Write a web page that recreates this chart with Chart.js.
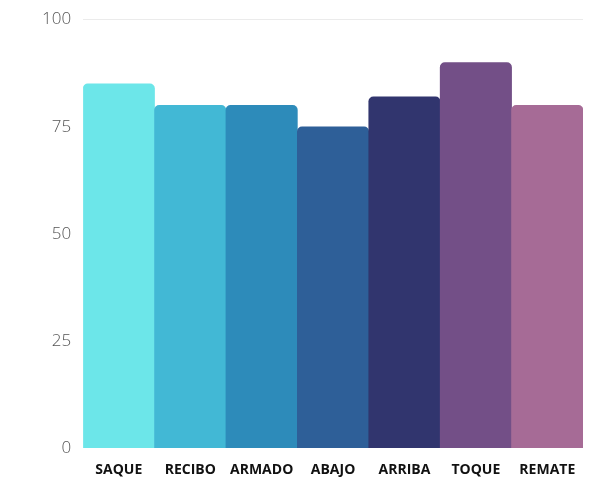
<!DOCTYPE html>
<html>
<head>
<meta charset="utf-8">
<script src="https://cdn.jsdelivr.net/npm/chart.js@4"></script>
<style>
  html, body { margin: 0; padding: 0; background: #fff; }
  #wrap { width: 593px; height: 494px; }
</style>
</head>
<body>
<div id="wrap"><canvas id="skillChart"></canvas></div>
<script>
// datos del gráfico
const categories = ['SAQUE', 'RECIBO', 'ARMADO', 'ABAJO', 'ARRIBA', 'TOQUE', 'REMATE'];
const values = [85, 80, 80, 75, 82, 90, 80];
const barColors = ['#6ce6e9', '#42b8d5', '#2d8bba', '#2e5f98', '#31356e', '#734f87', '#a66b96'];
const yTicks = [0, 25, 50, 75, 100];

const ctx = document.getElementById('skillChart');

new Chart(ctx, {
    type: 'bar',
    data: {
        labels: categories,
        datasets: [{
            data: values,
            backgroundColor: barColors,
            borderWidth: 0,
            borderRadius: { topLeft: 5, topRight: 5 },
            barPercentage: 1,
            categoryPercentage: 1
        }]
    },
    options: {
        responsive: true,
        maintainAspectRatio: false,
        animation: false,
        layout: { padding: { left: 30, right: 10, top: 0, bottom: 11 } },
        plugins: {
            legend: { display: false },
            tooltip: { enabled: false }
        },
        scales: {
            x: {
                grid: { display: false },
                border: { display: false },
                ticks: {
                    color: '#111',
                    font: { family: 'Open Sans', size: 14, weight: 'bold' },
                    padding: 5
                }
            },
            y: {
                min: 0,
                max: 100,
                afterBuildTicks: (axis) => { axis.ticks = yTicks.map(v => ({ value: v })); },
                border: { display: false },
                grid: {
                    drawTicks: false,
                    color: (c) => c.tick && c.tick.value === 100 ? '#ebebeb' : 'rgba(0,0,0,0)'
                },
                ticks: {
                    color: '#555',
                    font: { family: 'Open Sans', size: 17, weight: '300', lineHeight: 0.9 },
                    padding: 12
                }
            }
        }
    }
});
</script>
</body>
</html>
